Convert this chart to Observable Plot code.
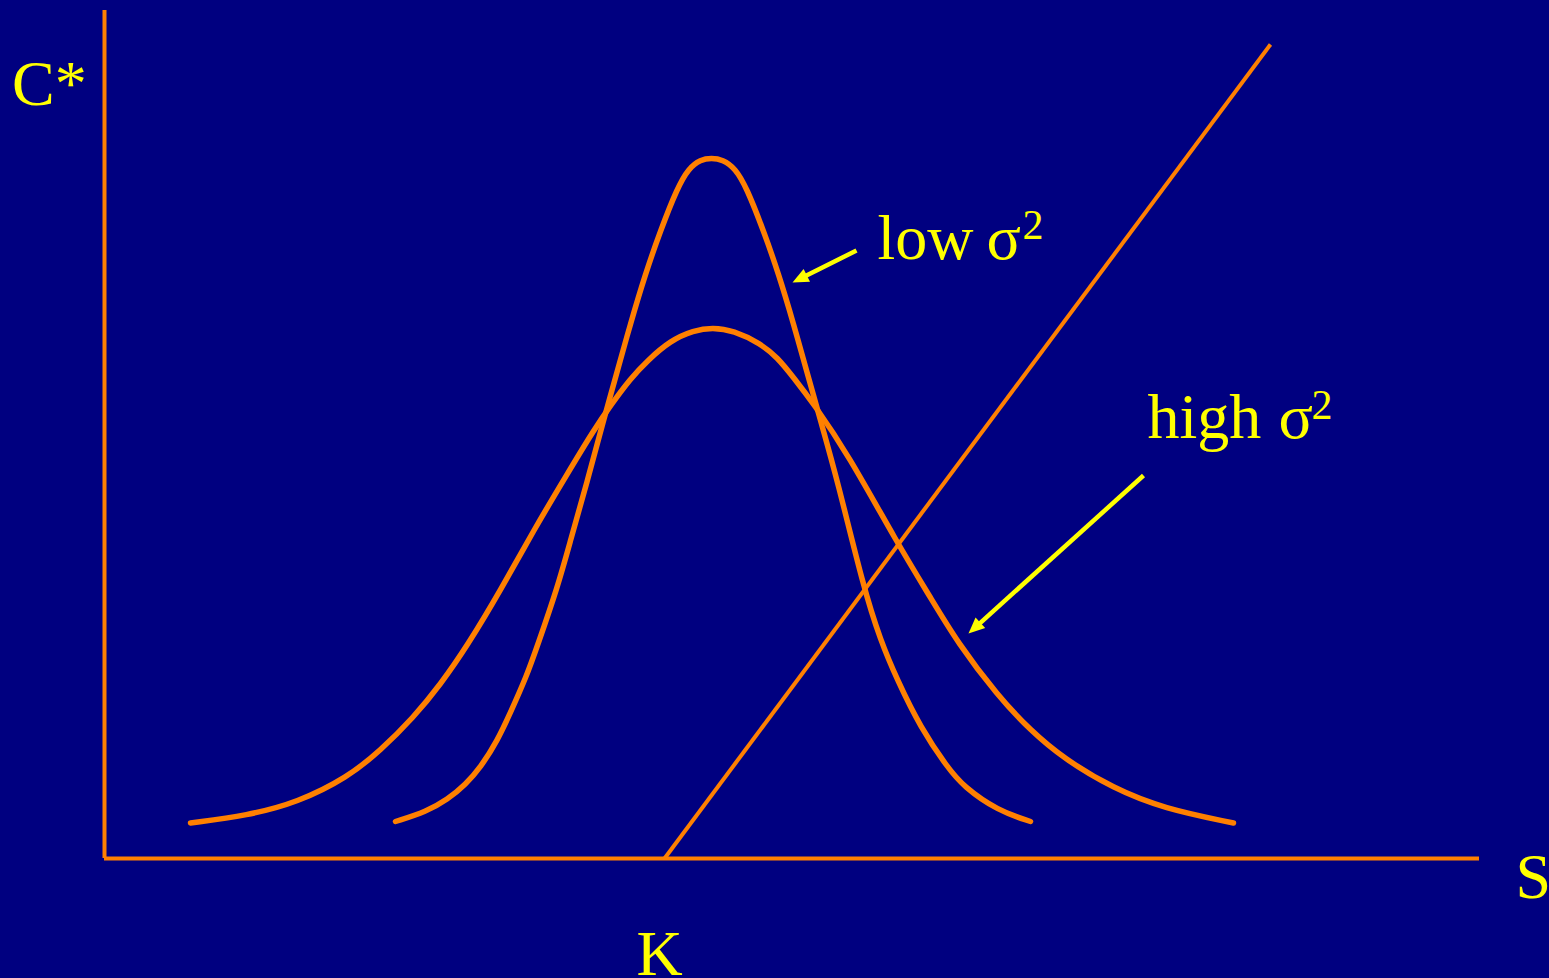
<!DOCTYPE html>
<html>
<head>
<meta charset="utf-8">
<script src="https://cdn.jsdelivr.net/npm/d3@7"></script>
<script src="https://cdn.jsdelivr.net/npm/@observablehq/plot@0.6"></script>
<style>
  html, body { margin: 0; padding: 0; background: #000080; }
  #chart svg { display: block; }
</style>
</head>
<body>
<div id="chart"></div>
<script>
// Strike price on the S axis
const strikeK = 44.8;

// Payoff line C* = max(S - K, 0): start at K, end point of the drawn segment
const payoffS = [44.8, 93.28];
const payoffC = [0, 65.12];

// Low-variance density of S (narrow bell)
const lowS = [23.28, 25.76, 27.44, 28.88, 30.08, 31.44, 32.48, 33.76, 34.64, 36.24, 37.28, 38.64,
  39.92, 40.88, 42.08, 43.28, 44.48, 45.84, 46.72, 47.68, 48.56, 49.44, 50.48, 51.36, 52.72,
  53.92, 55.12, 56.32, 57.28, 58.64, 60.72, 62.08, 63.44, 65.28, 67.44, 68.72, 71.44, 74.08];
const lowC = [2.96, 3.76, 4.72, 5.92, 7.28, 9.44, 11.68, 14.56, 17.04, 21.68, 25.44, 30.24,
  35.04, 38.48, 42.80, 46.80, 50.24, 53.68, 55.20, 55.92, 56.04, 55.92, 55.20, 53.68, 50.24,
  46.80, 42.80, 38.48, 35.04, 30.24, 21.68, 17.44, 14.24, 10.48, 7.28, 5.76, 3.84, 2.96];

// High-variance density of S (wide bell)
const highS = [6.88, 11.44, 15.44, 19.44, 22.08, 24.72, 26.88, 29.04, 31.68, 34.32, 37.04, 39.12,
  40.48, 42.08, 43.44, 45.28, 47.12, 48.64, 50.32, 52.48, 53.84, 55.12, 56.72, 59.44, 63.44,
  66.08, 68.24, 71.44, 74.08, 76.72, 80.72, 84.72, 90.32];
const highC = [2.84, 3.44, 4.48, 6.48, 8.64, 11.28, 13.92, 17.04, 21.44, 26.24, 30.80, 34.24,
  36.24, 38.40, 39.84, 41.44, 42.24, 42.48, 42.24, 41.20, 40.08, 38.48, 36.40, 32.40, 25.20,
  20.88, 17.28, 13.04, 10.24, 8.00, 5.60, 4.00, 2.84];

// Pointer arrows: tail and tip, one per curve label
const arrowNames = ["low", "high"];
const arrowTailS = [60.16, 83.12];
const arrowTailC = [48.64, 30.64];
const arrowTipS = [55.04, 69.12];
const arrowTipC = [46.08, 18.0];

const toPoints = (xs, ys) => xs.map((x, i) => ({S: x, C: ys[i]}));
const payoff = toPoints(payoffS, payoffC);
const lowCurve = toPoints(lowS, lowC);
const highCurve = toPoints(highS, highC);
const arrows = arrowNames.map((name, i) => ({
  name,
  x1: arrowTailS[i], y1: arrowTailC[i],
  x2: arrowTipS[i], y2: arrowTipC[i],
  // clockwise angle from "up" (x and y scales share the same px per unit)
  angle: Math.atan2(arrowTipS[i] - arrowTailS[i], arrowTipC[i] - arrowTailC[i]) * 180 / Math.PI
}));

const ORANGE = "#FF8000";
const YELLOW = "#FFFF00";
const NAVY = "#000080";
const FONT = "'Liberation Serif', 'Times New Roman', serif";

// Filled triangular arrowhead with its tip at the origin, pointing up
const arrowHead = {
  draw(context, size) {
    const L = Math.sqrt(size / Math.PI);
    const w = 0.45 * L;
    context.moveTo(0, 0);
    context.lineTo(-w, L);
    context.lineTo(w, L);
    context.closePath();
  }
};

const label = (x, y, text, size, extra = {}) =>
  Plot.text([text], {
    x: () => x, y: () => y, text: d => d,
    fill: YELLOW, fontSize: size, fontFamily: FONT,
    textAnchor: "start", lineAnchor: "bottom", ...extra
  });

const chart = Plot.plot({
  width: 1549,
  height: 978,
  marginLeft: 104,
  marginRight: 70,
  marginTop: 10,
  marginBottom: 120,
  x: {domain: [0, 110], axis: null},
  y: {domain: [0, 67.84], axis: null},
  style: {background: NAVY, overflow: "visible"},
  marks: [
    // axes
    Plot.ruleX([0], {stroke: ORANGE, strokeWidth: 4}),
    Plot.ruleY([0], {stroke: ORANGE, strokeWidth: 4}),
    // payoff at expiry
    Plot.line(payoff, {x: "S", y: "C", stroke: ORANGE, strokeWidth: 4, strokeLinecap: "butt"}),
    // densities
    Plot.line(highCurve, {x: "S", y: "C", stroke: ORANGE, strokeWidth: 5.5, curve: "basis", strokeLinecap: "round"}),
    Plot.line(lowCurve, {x: "S", y: "C", stroke: ORANGE, strokeWidth: 5.5, curve: "basis", strokeLinecap: "round"}),
    // pointer arrows
    Plot.arrow(arrows, {x1: "x1", y1: "y1", x2: "x2", y2: "y2", stroke: YELLOW, strokeWidth: 4.5,
      headLength: 0, insetEnd: 10, strokeLinecap: "butt"}),
    Plot.dot(arrows, {x: "x2", y: "y2", symbol: arrowHead, r: 16, rotate: "angle", fill: YELLOW, stroke: "none"}),
    // axis titles
    label(-7.4, 60.32, "C*", 64),
    label(112.88, -3.12, "S", 64),
    label(strikeK, -9.28, "K", 64, {textAnchor: "middle", dx: -5}),
    // curve labels
    label(61.84, 48.0, "low", 64),
    label(70.56, 48.0, "σ", 64),
    label(73.44, 49.6, "2", 42),
    label(83.44, 33.68, "high", 64),
    label(93.92, 33.68, "σ", 64),
    label(96.56, 35.2, "2", 42)
  ]
});

document.getElementById("chart").appendChild(chart);
</script>
</body>
</html>
